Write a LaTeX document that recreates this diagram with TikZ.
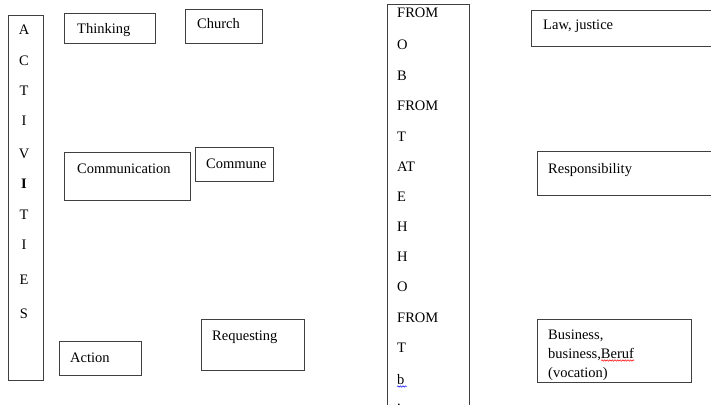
\documentclass[tikz,border=0pt]{standalone}
\usepackage{fontspec}
\setmainfont{Liberation Serif}
\usetikzlibrary{positioning,calc,decorations.pathmorphing}
\tikzset{
  box/.style={draw=black!75,line width=0.8pt,inner sep=0pt,anchor=north west},
  lbl/.style={anchor=base west,inner sep=0pt},
  letter/.style={anchor=base,inner sep=0pt},
  squiggle/.style={decorate,decoration={snake,amplitude=0.7pt,segment length=2.6pt},line width=0.5pt},
}

\begin{document}
\begin{tikzpicture}[x=1pt,y=-1pt,font=\fontsize{14.5}{19}\selectfont]
  \useasboundingbox (0,0) rectangle (711,404);
  \clip (0,0) rectangle (711,404);
  % left column
  \node[box,minimum width=35,minimum height=365] (act) at (8,15) {};
  \foreach \l/\y [count=\i] in {A/35,C/66,T/95,I/125,V/158,{\textbf{I}}/188,T/219,I/249,E/284,S/318} {
    \node[letter] (act-\i) at (24,\y) {\l};
  }
  % boxes of the left part
  \node[box,minimum width=91,minimum height=30] (think) at (64,13) {};
  \node[box,minimum width=77,minimum height=34] (church) at (185,9) {};
  \node[box,minimum width=126,minimum height=48] (comm) at (64,152) {};
  \node[box,minimum width=78,minimum height=34] (commune) at (195,147) {};
  \node[box,minimum width=82,minimum height=34] (action) at (59,341) {};
  \node[box,minimum width=103,minimum height=51] (req) at (201,319) {};
  \node[lbl] (think-t) at (77,34) {Thinking};
  \node[lbl] (church-t) at (197,29) {Church};
  \node[lbl] (comm-t) at (77,173) {Communication};
  \node[lbl] (commune-t) at (206,168) {Commune};
  \node[lbl] (action-t) at (70,362) {Action};
  \node[lbl] (req-t) at (212,340) {Requesting};
  % middle column
  \node[box,minimum width=82,minimum height=420] (from) at (387,4) {};
  \foreach \w/\y [count=\i] in {FROM/18,O/49,B/80,FROM/110,T/141,AT/171,E/201,H/231,H/261,O/291,FROM/322,T/352,b/384} {
    \node[lbl] (from-\i) at (397,\y) {\w};
  }
  \node[lbl] (from-dot) at (397,405) {.};
  \draw[squiggle,blue] ($(from-13.base west)+(0,2.5)$) -- ($(from-13.base east)+(2,2.5)$);
  % right part
  \node[box,minimum width=200,minimum height=36] (law) at (531,10) {};
  \node[box,minimum width=200,minimum height=44] (resp) at (537,151) {};
  \node[box,minimum width=154,minimum height=63] (biz) at (537,319) {};
  \node[lbl] (law-t) at (543,30) {Law, justice};
  \node[lbl] (resp-t) at (548,173) {Responsibility};
  \node[lbl] (biz-1) at (548,339) {Business,};
  \node[lbl] (biz-2) at (548,358) {business,Beruf};
  \node[lbl] (biz-3) at (548,377) {(vocation)};
  \draw[squiggle,red] ($(biz-2.base east)+(-33,2.5)$) -- ($(biz-2.base east)+(0,2.5)$);
\end{tikzpicture}
\end{document}
